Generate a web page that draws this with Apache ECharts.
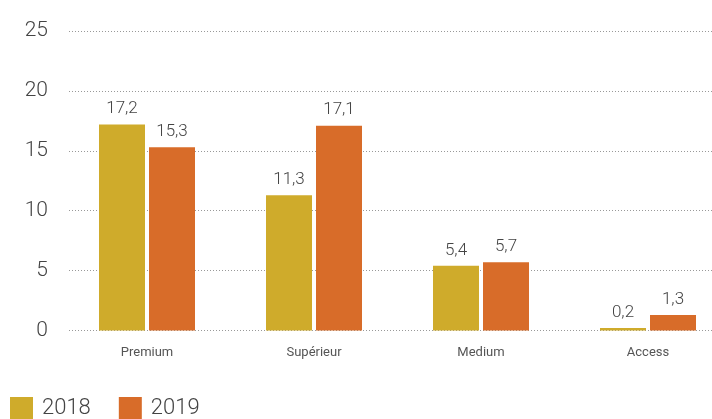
<!DOCTYPE html>
<html>
<head>
<meta charset="utf-8">
<script src="https://cdn.jsdelivr.net/npm/echarts@6/dist/echarts.min.js"></script>
<style>
  html, body { margin: 0; padding: 0; background: #fff; }
  #chart { width: 712px; height: 419px; }
</style>
</head>
<body>
<div id="chart"></div>
<script>
const categories = ["Premium", "Supérieur", "Medium", "Access"];
const values2018 = [17.2, 11.3, 5.4, 0.2];
const values2019 = [15.3, 17.1, 5.7, 1.3];
const seriesNames = ["2018", "2019"];

const fontFamily = "Roboto, 'Noto Sans', sans-serif";
const fmt = function (p) { return String(p.value).replace(".", ","); };

const chart = echarts.init(document.getElementById("chart"));

const barLabel = {
    show: true,
    position: "top",
    distance: 7,
    fontSize: 17,
    fontWeight: 300,
    color: "#444",
    formatter: fmt
};

const option = {
    animation: false,
    color: ["#cfab2b", "#d86c29"],
    textStyle: { fontFamily: fontFamily },
    grid: [
        { left: 69, right: 0, top: 31, height: 299.5, outerBoundsMode: "none" },
        // the bar area runs a bit past the right edge of the picture
        { left: 63.5, width: 668, top: 31, height: 299.5, outerBoundsMode: "none" }
    ],
    legend: {
        data: seriesNames,
        left: 10,
        top: 397,
        padding: 0,
        itemWidth: 23,
        itemHeight: 23,
        itemGap: 28,
        icon: "rect",
        textStyle: {
            fontSize: 22,
            fontWeight: 300,
            color: "#444",
            padding: [0, 0, 0, 4]
        }
    },
    xAxis: [
        { gridIndex: 0, type: "category", data: categories, show: false },
        {
            gridIndex: 1,
            type: "category",
            data: categories,
            axisLine: { show: false },
            axisTick: { show: false },
            axisLabel: {
                margin: 16,
                fontSize: 13,
                color: "#555"
            }
        }
    ],
    yAxis: [
        {
            gridIndex: 0,
            type: "value",
            min: 0,
            max: 25,
            interval: 5,
            axisLine: { show: false },
            axisTick: { show: false },
            axisLabel: {
                margin: 21,
                fontSize: 21,
                fontWeight: 300,
                color: "#444"
            },
            splitLine: {
                lineStyle: { color: "#999", type: [1, 2], width: 1 }
            }
        },
        {
            gridIndex: 1,
            type: "value",
            min: 0,
            max: 25,
            interval: 5,
            show: false,
            splitLine: { show: false }
        }
    ],
    series: [
        {
            name: seriesNames[0],
            type: "bar",
            xAxisIndex: 1,
            yAxisIndex: 1,
            data: values2018,
            barWidth: 46,
            barGap: "8.7%",
            label: barLabel
        },
        {
            name: seriesNames[1],
            type: "bar",
            xAxisIndex: 1,
            yAxisIndex: 1,
            data: values2019,
            barWidth: 46,
            barGap: "8.7%",
            label: barLabel
        }
    ]
};

chart.setOption(option);
</script>
</body>
</html>
